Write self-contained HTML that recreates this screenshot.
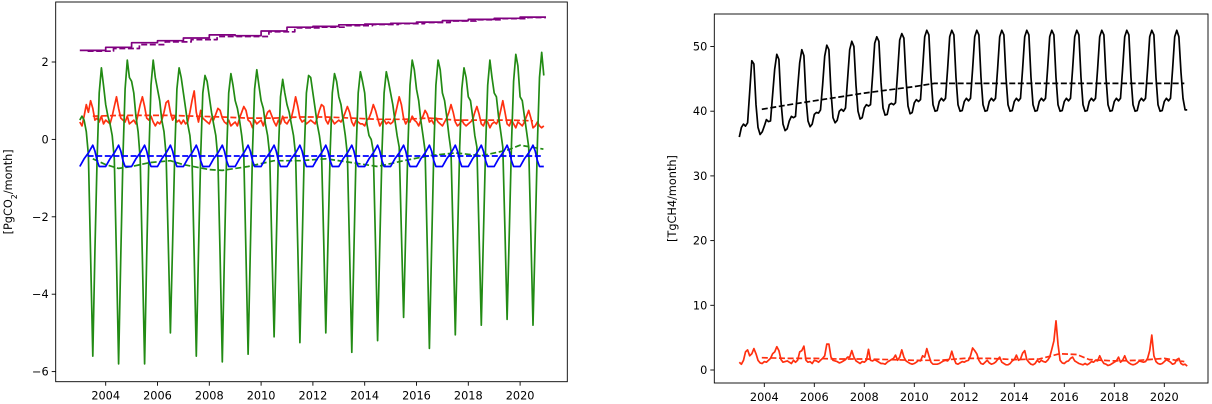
<!DOCTYPE html>
<html><head><meta charset="utf-8"><style>
body{margin:0;background:#fff}
svg{display:block;font-family:"DejaVu Sans","Liberation Sans",sans-serif;font-size:11.3px}
</style></head><body>
<svg id="c" width="1212" height="404"></svg>
<script>
// ---- data (monthly, 2003-01 .. 2020-12) ----
const years = [2003,2004,2005,2006,2007,2008,2009,2010,2011,2012,2013,2014,2015,2016,2017,2018,2019,2020];
const xTicks = [2004,2006,2008,2010,2012,2014,2016,2018,2020];
const leftYTicks = [2,0,-2,-4,-6];
const rightYTicks = [0,10,20,30,40,50];
const greenSolid = [
0.5,0.6,0.5,0.2,-0.4,-3.0,-5.6,-2.9,-0.5,1.2,1.85,1.4,
0.9,0.6,0.4,0.1,-0.5,-3.1,-5.8,-3.0,-0.4,1.3,2.05,1.6,
1.5,1.2,0.6,0.2,-0.5,-3.1,-5.8,-3.0,-0.4,1.4,2.05,1.6,
1.3,1.0,0.5,0.2,-0.4,-2.7,-5.0,-2.7,-0.3,1.3,1.85,1.6,
1.2,0.8,0.4,0.1,-0.5,-3.0,-5.6,-2.9,-0.4,1.2,1.65,1.5,
1.1,0.7,0.4,0.1,-0.5,-3.0,-5.75,-3.0,-0.4,1.2,1.7,1.4,
1.0,0.8,0.5,0.1,-0.4,-3.0,-5.55,-2.9,-0.3,1.3,1.8,1.4,
1.0,0.8,0.4,0.1,-0.4,-2.8,-5.1,-2.8,-0.3,1.1,1.55,1.2,
0.9,0.7,0.4,0.1,-0.4,-2.8,-5.25,-2.8,-0.3,1.2,1.65,1.6,
1.2,0.8,0.4,0.1,-0.3,-2.6,-5.0,-2.6,-0.3,1.2,1.7,1.5,
1.1,0.9,0.5,0.1,-0.4,-2.9,-5.5,-2.9,-0.3,1.2,1.75,1.5,
1.2,0.4,0.1,0.0,-0.3,-2.7,-5.2,-2.7,-0.3,1.2,1.75,1.5,
1.2,0.9,0.5,0.1,-0.2,-2.4,-4.6,-2.4,-0.2,1.4,2.05,1.8,
1.3,1.0,0.5,0.1,-0.3,-2.8,-5.4,-2.8,-0.3,1.4,2.05,1.8,
1.2,1.0,0.6,0.1,-0.3,-2.6,-5.05,-2.6,-0.2,1.3,1.85,1.6,
1.1,1.0,0.6,0.1,-0.2,-2.5,-4.8,-2.5,-0.2,1.4,2.05,1.6,
1.2,1.1,0.6,0.2,-0.2,-2.4,-4.65,-2.4,-0.1,1.5,2.2,1.9,
1.1,1.0,0.6,0.2,-0.2,-2.5,-4.8,-2.5,-0.1,1.6,2.25,1.65];
const redSolid = [
0.45,0.35,0.6,0.9,0.7,1.0,0.8,0.5,0.55,0.45,0.6,0.4,
0.5,0.45,0.4,0.6,0.85,1.1,0.8,0.55,0.5,0.45,0.6,0.4,
0.45,0.5,0.4,0.65,0.9,1.1,0.85,0.55,0.5,0.6,0.45,0.35,
0.45,0.4,0.5,0.7,0.95,1.0,0.7,0.5,0.6,0.45,0.5,0.4,
0.5,0.4,0.45,0.7,1.0,1.25,0.7,0.45,0.75,0.55,0.5,0.45,
0.4,0.55,0.5,0.65,0.8,0.75,0.55,0.45,0.4,0.5,0.35,0.4,
0.45,0.35,0.55,0.7,0.85,0.75,0.5,0.45,0.3,0.5,0.4,0.45,
0.5,0.35,0.55,0.7,0.75,0.6,0.45,0.35,0.5,0.4,0.6,0.45,
0.4,0.5,0.55,0.8,1.1,0.85,0.55,0.45,0.5,0.4,0.45,0.5,
0.45,0.4,0.55,0.75,0.9,0.85,0.5,0.4,0.55,0.5,0.4,0.45,
0.5,0.45,0.55,0.7,0.85,0.7,0.45,0.35,0.5,0.45,0.4,0.4,
0.35,0.5,0.55,0.7,0.9,0.75,0.55,0.35,0.45,0.5,0.4,0.45,
0.4,0.45,0.6,0.85,1.1,0.9,0.55,0.4,0.5,0.45,0.6,0.5,
0.45,0.35,0.5,0.6,0.75,0.65,0.45,0.5,0.4,0.55,0.45,0.4,
0.35,0.45,0.55,0.7,0.9,0.7,0.45,0.35,0.4,0.5,0.4,0.35,
0.4,0.45,0.5,0.7,0.85,0.65,0.4,0.35,0.5,0.45,0.3,0.4,
0.45,0.4,0.5,0.75,1.0,0.7,0.4,0.35,0.5,0.4,0.3,0.45,
0.4,0.35,0.45,0.6,0.75,0.55,0.3,0.35,0.45,0.35,0.3,0.35];
const redDashYearly = [0.6,0.62,0.62,0.62,0.6,0.58,0.55,0.55,0.58,0.58,0.55,0.52,0.52,0.55,0.5,0.5,0.5,0.48];
const blueClim = [-0.7,-0.6,-0.5,-0.42,-0.35,-0.25,-0.15,-0.3,-0.55,-0.7,-0.7,-0.7];
const blueDash = -0.43;
const greenDashT = [2003.5,2004,2004.5,2005,2005.7,2006.5,2007,2008,2008.5,2009.5,2010.5,2011.5,2012.5,2013.5,2014.5,2015.5,2016.5,2017.5,2018.5,2019.5,2020,2020.9];
const greenDashV = [-0.5,-0.65,-0.75,-0.7,-0.6,-0.55,-0.65,-0.78,-0.8,-0.7,-0.55,-0.55,-0.5,-0.6,-0.7,-0.55,-0.42,-0.35,-0.42,-0.28,-0.15,-0.25];
const purpleSolid = [2.3,2.38,2.5,2.55,2.62,2.7,2.68,2.8,2.9,2.92,2.96,2.98,3.0,3.03,3.07,3.1,3.13,3.16];
const purpleDash = [2.28,2.35,2.45,2.52,2.58,2.66,2.66,2.78,2.88,2.9,2.94,2.97,2.99,3.02,3.06,3.09,3.12,3.15];
const blackSolid = [
36.0,37.5,38.0,37.7,38.2,43.0,47.8,47.3,41.0,37.5,36.4,36.8,
37.7,38.7,38.4,38.5,42.5,46.5,48.8,48.0,41.5,38.0,37.0,37.3,
38.5,39.2,39.0,39.2,43.5,47.5,49.5,48.6,42.0,38.5,37.6,38.0,
39.5,39.8,39.7,40.2,44.0,48.5,50.2,49.5,43.0,39.0,38.2,38.6,
40.0,40.3,40.0,40.5,45.0,49.5,50.8,50.0,44.0,40.0,38.8,39.0,
40.5,41.0,40.8,41.0,45.5,50.5,51.5,50.8,44.5,40.5,39.4,39.5,
41.0,41.2,41.0,41.3,46.0,51.0,52.0,51.3,45.0,40.8,39.6,39.8,
41.3,41.8,41.5,41.8,46.5,51.5,52.5,51.8,45.2,41.0,40.0,40.1,
41.5,42.0,41.6,42.0,46.5,51.5,52.5,51.8,45.2,41.0,40.0,40.1,
41.5,42.0,41.6,42.0,46.5,51.5,52.5,51.8,45.2,41.0,40.0,40.1,
41.5,42.0,41.6,42.0,46.5,51.5,52.5,51.8,45.2,41.0,40.0,40.1,
41.5,42.0,41.6,42.0,46.5,51.5,52.5,51.8,45.2,41.0,40.0,40.1,
41.5,42.0,41.6,42.0,46.5,51.5,52.5,51.8,45.2,41.0,40.0,40.1,
41.5,42.0,41.6,42.0,46.5,51.5,52.5,51.8,45.2,41.0,40.0,40.1,
41.5,42.0,41.6,42.0,46.5,51.5,52.5,51.8,45.2,41.0,40.0,40.1,
41.5,42.0,41.6,42.0,46.5,51.5,52.5,51.8,45.2,41.0,40.0,40.1,
41.5,42.0,41.6,42.0,46.5,51.5,52.5,51.8,45.2,41.0,40.0,40.1,
41.5,42.0,41.6,42.0,46.5,51.5,52.5,51.5,46.0,42.0,40.2,40.2];
const blackDashT = [2003.9,2005,2006,2007,2008,2009,2010,2010.8,2012,2014,2016,2018,2020,2020.8];
const blackDashV = [40.3,41.0,41.6,42.2,42.8,43.3,43.8,44.3,44.3,44.3,44.3,44.3,44.3,44.3];
const redCH4 = [
1.2,0.9,1.5,2.8,3.1,2.2,2.5,3.3,2.5,1.5,1.1,1.0,
1.3,1.2,1.5,1.8,2.5,2.8,3.6,3.0,1.6,1.2,1.3,1.4,
1.2,1.0,1.5,1.2,1.5,2.8,3.0,3.7,1.5,1.2,1.3,1.0,
1.5,1.4,1.2,1.5,1.8,2.2,4.0,4.0,2.0,1.5,1.4,1.3,
1.1,1.2,1.4,1.6,2.0,2.0,3.0,2.0,1.4,1.2,1.0,1.3,
1.2,1.5,3.2,1.5,1.4,1.6,1.4,1.2,1.0,1.0,0.9,1.2,
1.4,1.6,1.8,2.3,1.5,2.0,3.1,2.0,1.4,1.2,1.0,0.9,
1.0,1.2,1.5,1.4,2.2,2.0,3.3,2.2,1.2,0.9,0.9,0.9,
1.0,1.2,1.4,1.5,1.4,1.8,2.9,1.8,1.0,0.9,1.1,1.3,
1.2,1.4,1.5,2.2,3.4,3.0,2.5,1.5,1.0,0.9,1.2,1.5,
1.1,0.9,1.0,1.2,1.6,2.0,1.2,1.0,0.8,0.8,1.0,1.4,
1.6,2.3,1.5,1.7,2.6,3.0,1.6,1.2,0.9,0.8,1.0,1.5,
1.2,1.5,1.3,1.2,1.5,2.0,3.2,4.5,7.6,4.0,1.5,1.1,
1.0,1.3,1.4,1.8,2.0,1.4,1.2,1.0,0.9,0.8,1.0,0.8,
1.0,1.3,1.2,1.5,1.4,2.2,1.5,1.0,0.9,0.7,0.8,1.0,
1.2,1.4,2.0,1.2,1.5,2.2,1.4,1.1,0.9,0.8,0.9,1.1,
1.4,1.3,1.2,1.3,1.8,3.0,5.4,2.2,1.3,1.0,0.9,1.0,
1.3,1.6,1.4,1.2,0.9,1.0,1.6,1.8,1.0,0.8,0.9,0.6];
const redCH4DashT = [2003.9,2005,2006,2007,2008,2009,2010,2011,2012,2013,2014,2015,2015.8,2016.5,2017,2018,2019,2020,2020.8];
const redCH4DashV = [1.9,1.8,1.8,1.7,1.7,1.6,1.5,1.5,1.8,1.8,1.6,1.7,2.5,2.4,1.6,1.4,1.5,1.8,1.3];

// ---- axes ----
const NS='http://www.w3.org/2000/svg';
const svg=document.getElementById('c');
function el(tag,attrs,parent){const e=document.createElementNS(NS,tag);for(const k in attrs)e.setAttribute(k,attrs[k]);(parent||svg).appendChild(e);return e;}
const L={x0:55.7,x1:567.3,y0:2,y1:381.7};
const R={x0:714.3,x1:1208,y0:14,y1:383};
const lx=t=>79.8+(t-2003)*25.9;
const ly=v=>139.4-v*38.7;
const rx=t=>739.3+(t-2003)*25.0;
const ry=v=>370-v*6.47;
const mt=i=>2003+i/12;

function poly(pts,color,dash,name,g){
  const p=el('polyline',{points:pts.map(q=>q[0].toFixed(1)+','+q[1].toFixed(1)).join(' '),fill:'none',stroke:color,'stroke-width':1.7,'stroke-linejoin':'round'},g);
  if(dash)p.setAttribute('stroke-dasharray','6,2.6');
  
  
}
function frame(A,fx,fy,xt,yt,name,ylab,ylx){
  const g=el('g',{});
  
  
  xt.forEach(t=>{
    const x=fx(t);
    el('line',{x1:x,x2:x,y1:A.y1,y2:A.y1+4,stroke:'#000','stroke-width':0.9},g);
    const tx=el('text',{x:x,y:A.y1+18,'text-anchor':'middle',fill:'#000'},g);tx.textContent=t;
    
    
  });
  yt.forEach(v=>{
    const y=fy(v);
    el('line',{x1:A.x0-4,x2:A.x0,y1:y,y2:y,stroke:'#000','stroke-width':0.9},g);
    const tx=el('text',{x:A.x0-7,y:y+4,'text-anchor':'end',fill:'#000'},g);tx.textContent=(v<0?'\u2212'+(-v):v);
    
    
  });
  const yl=el('text',{x:ylx,y:(A.y0+A.y1)/2,'text-anchor':'middle',transform:`rotate(-90 ${ylx} ${(A.y0+A.y1)/2})`,fill:'#000'},g);
  yl.innerHTML=ylab;
  
  
  return g;
}
// left
const gl=frame(L,lx,ly,xTicks,leftYTicks,'co2-panel','[PgCO<tspan baseline-shift="sub" font-size="8">2</tspan>/month]',12);
poly(purpleDash.flatMap((v,i)=>[[lx(years[i]+0.3),ly(v)],[lx(years[i]+1.3>2021?2021:years[i]+1.3),ly(v)]]),'#800080',true,'purple-dashed-line',gl);
poly(purpleSolid.flatMap((v,i)=>[[lx(years[i]),ly(v)],[lx(years[i]+1),ly(v)]]),'#800080',false,'purple-line',gl);
poly(redSolid.map((v,i)=>[lx(mt(i)),ly(v)]),'#ff3010',false,'red-line',gl);
poly(redDashYearly.map((v,i)=>[lx(years[i]+0.5),ly(v)]),'#ff3010',true,'red-dashed-line',gl);
poly(greenSolid.map((v,i)=>[lx(mt(i)),ly(v)]),'#228b14',false,'green-line',gl);
poly(greenDashT.map((t,i)=>[lx(t),ly(greenDashV[i])]),'#228b14',true,'green-dashed-line',gl);
poly(greenSolid.map((v,i)=>[lx(mt(i)),ly(blueClim[i%12])]),'#0000ff',false,'blue-line',gl);
poly([[lx(2003.3),ly(blueDash)],[lx(2020.9),ly(blueDash)]],'#0000ff',true,'blue-dashed-line',gl);
el('rect',{x:L.x0,y:L.y0,width:L.x1-L.x0,height:L.y1-L.y0,fill:'none',stroke:'#000','stroke-width':0.9},gl);
// right
const gr=frame(R,rx,ry,xTicks,rightYTicks,'ch4-panel','[TgCH4/month]',676);
poly(blackSolid.map((v,i)=>[rx(mt(i)),ry(v)]),'#000',false,'black-line',gr);
poly(blackDashT.map((t,i)=>[rx(t),ry(blackDashV[i])]),'#000',true,'black-dashed-line',gr);
poly(redCH4.map((v,i)=>[rx(mt(i)),ry(v)]),'#ff3010',false,'red-ch4-line',gr);
poly(redCH4DashT.map((t,i)=>[rx(t),ry(redCH4DashV[i])]),'#ff3010',true,'red-ch4-dashed-line',gr);
el('rect',{x:R.x0,y:R.y0,width:R.x1-R.x0,height:R.y1-R.y0,fill:'none',stroke:'#000','stroke-width':0.9},gr);
</script>
</body></html>
